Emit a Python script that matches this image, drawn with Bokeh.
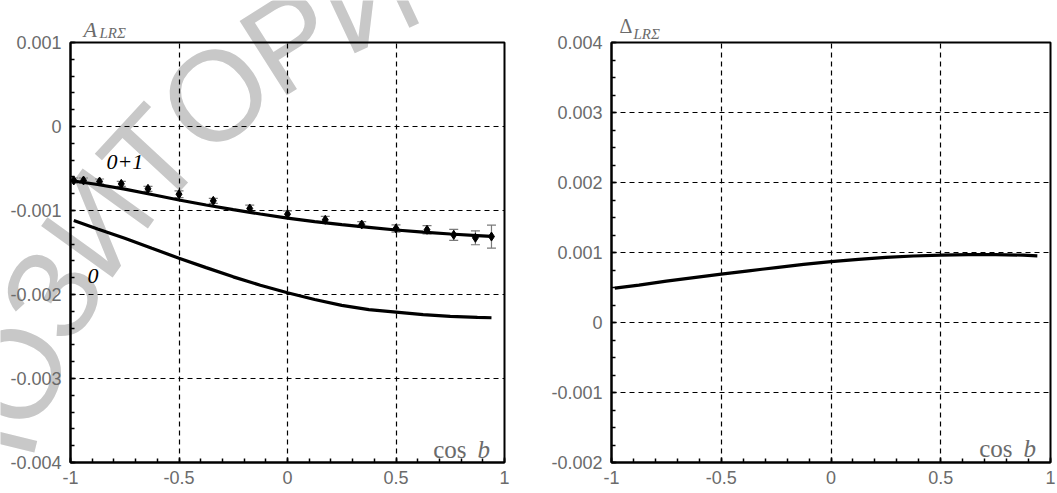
import numpy as np
from bokeh.plotting import figure
from bokeh.models import (FixedTicker, CustomJSTickFormatter, Whisker,
                          ColumnDataSource, Range1d, TeeHead)
from bokeh.core.properties import value
from bokeh.layouts import row, column
from bokeh.embed import file_html
from bokeh.resources import INLINE

# ---------------- data ----------------
# measured points (left panel), x = cos b
cos_pts = [-0.985, -0.940, -0.866, -0.766, -0.643, -0.500, -0.342, -0.174,
           0.000, 0.174, 0.342, 0.500, 0.643, 0.766, 0.866, 0.940]
a_pts = [-0.000643, -0.000643, -0.000655, -0.000683, -0.000742, -0.000806,
         -0.000885, -0.000976, -0.001044, -0.001111, -0.001167, -0.001214,
         -0.001230, -0.001290, -0.001325, -0.001310]
a_err = [0.00003, 0.00003, 0.00003, 0.00003, 0.00003, 0.00004, 0.00003,
         0.00004, 0.00004, 0.00004, 0.000034, 0.000044, 0.00005, 0.000065,
         0.000083, 0.000137]

# theory curves (left panel)
curve_x = [-1.0, -0.875, -0.75, -0.625, -0.5, -0.375, -0.25, -0.125, 0.0,
           0.125, 0.25, 0.375, 0.5, 0.625, 0.75, 0.875, 0.94]
curve_01 = [-0.000643, -0.000690, -0.000745, -0.000810, -0.000875, -0.000935,
            -0.000990, -0.001042, -0.001090, -0.001132, -0.001168, -0.001200,
            -0.001232, -0.001258, -0.001280, -0.001298, -0.001308]
curve0_x = [-0.985, -0.875, -0.75, -0.625, -0.5, -0.375, -0.25, -0.125, 0.0,
            0.125, 0.25, 0.375, 0.5, 0.625, 0.75, 0.875, 0.94]
curve_0 = [-0.00112, -0.00122, -0.00133, -0.00145, -0.001568, -0.00168,
           -0.00179, -0.00189, -0.00198, -0.00206, -0.00213, -0.00218,
           -0.00221, -0.00224, -0.00226, -0.002272, -0.002277]

# right panel curve
delta_x = [-0.985, -0.875, -0.75, -0.625, -0.5, -0.375, -0.25, -0.125, 0.0,
           0.125, 0.25, 0.375, 0.5, 0.625, 0.75, 0.875, 0.94]
delta_y = [0.00049, 0.000535, 0.00059, 0.00064, 0.00069, 0.000738, 0.000785,
           0.00083, 0.00087, 0.000903, 0.00093, 0.00095, 0.000963, 0.00097,
           0.00097, 0.000962, 0.000952]

x_ticks = [-1, -0.5, 0, 0.5, 1]
left_yticks = [-0.004, -0.003, -0.002, -0.001, 0, 0.001]
right_yticks = [-0.002, -0.001, 0, 0.001, 0.002, 0.003, 0.004]

watermark = "РЕПОЗИТОРИЙ"

# ---------------- styling ----------------
GRAY = "#6b6b6b"
SANS = "Liberation Sans"
SERIF = "Liberation Serif"
W, H = 1057, 493

fmt = CustomJSTickFormatter(code="""
    return tick.toFixed(3).replace(/\\.?0+$/, '');
""")


def make_fig(width, height, ylo, yhi, yticks, yminor_step, bl, br, bt, bb):
    p = figure(width=width, height=height, x_range=Range1d(-1, 1),
               y_range=Range1d(ylo, yhi), output_backend="svg",
               toolbar_location=None, min_border_left=bl, min_border_right=br,
               min_border_top=bt, min_border_bottom=bb)
    p.background_fill_alpha = 0
    p.border_fill_alpha = 0
    p.outline_line_color = "black"
    p.outline_line_width = 2
    p.outline_line_alpha = 1.0

    xminor = [round(v, 2) for v in np.arange(-1.0, 1.0001, 0.1)]
    yminor = [round(v, 6) for v in np.arange(ylo, yhi + 1e-9, yminor_step)]
    p.xaxis.ticker = FixedTicker(ticks=x_ticks, minor_ticks=xminor)
    p.yaxis.ticker = FixedTicker(ticks=yticks, minor_ticks=yminor)
    for ax in (p.xaxis, p.yaxis):
        ax.formatter = fmt
        ax.axis_line_color = "black"
        ax.axis_line_width = 2
        ax.major_tick_in = 5
        ax.major_tick_out = 0
        ax.minor_tick_in = 4
        ax.minor_tick_out = 0
        ax.major_tick_line_color = "black"
        ax.minor_tick_line_color = "black"
        ax.major_tick_line_width = 1.5
        ax.minor_tick_line_width = 1.5
        ax.major_label_text_font = SANS
        ax.major_label_text_font_size = "18px"
        ax.major_label_text_color = GRAY
    p.xaxis.major_label_standoff = 8
    p.yaxis.major_label_standoff = 9

    p.xgrid.ticker = FixedTicker(ticks=[-0.5, 0, 0.5])
    p.ygrid.ticker = FixedTicker(ticks=yticks)
    for g in (p.xgrid, p.ygrid):
        g.grid_line_color = "black"
        g.grid_line_alpha = 1.0
        g.grid_line_width = 1.2
        g.grid_line_dash = "5 4"
    return p


# ---------------- background layer (page-pixel coordinates) ----------------
bg = figure(width=W, height=H, x_range=Range1d(0, W), y_range=Range1d(H, 0),
            output_backend="svg", toolbar_location=None, min_border=0,
            x_axis_type=None, y_axis_type=None)
bg.grid.visible = False
bg.outline_line_color = None
bg.background_fill_color = "white"
bg.border_fill_color = "white"

# watermark letters laid along an arc (decoration only)
WM_SIZE = 128.0
adv = {"Р": 0.667, "Е": 0.667, "П": 0.722, "О": 0.778, "З": 0.60,
       "И": 0.722, "Т": 0.611, "Й": 0.722}
cx, cy, R = 665.0, 631.0, 700.0
anchor_i, anchor_deg = 7, 130.0          # second "О" sits at this angle
cum = [0.0]
for a_ch, b_ch in zip(watermark[:-1], watermark[1:]):
    cum.append(cum[-1] + (adv[a_ch] + adv[b_ch]) / 2 * WM_SIZE)
wm_x, wm_y, wm_a, wm_t = [], [], [], []
for i, ch in enumerate(watermark):
    ang = np.deg2rad(anchor_deg) - (cum[i] - cum[anchor_i]) / R
    x = cx + R * np.cos(ang)
    y = cy - R * np.sin(ang)
    if -40 < x < W and -30 < y < H + 40:
        wm_x.append(x)
        wm_y.append(y)
        wm_a.append(ang - np.pi / 2)
        wm_t.append(ch)
bg.text(x=wm_x, y=wm_y, text=wm_t, angle=wm_a,
        text_font=value(SANS), text_font_size=value(f"{WM_SIZE:.0f}px"),
        text_color="#c8c8c8", text_align="center", text_baseline="middle")


def bg_text(x, y, t, font, size, color, style="normal", align="left"):
    bg.text(x=[x], y=[y], text=[t], text_font=value(font),
            text_font_size=value(size), text_color=color,
            text_font_style=style, text_align=align,
            text_baseline="alphabetic")


bg_text(83, 28.5, "A", SERIF, "22px", GRAY, "italic")
bg_text(99, 32.5, "LRΣ", SERIF, "15px", GRAY, "italic")
bg_text(619, 25.5, "Δ", SERIF, "20px", GRAY)
bg_text(633, 33, "LRΣ", SERIF, "15px", GRAY, "italic")

# ---------------- left panel ----------------
p1 = make_fig(524, H, -0.004, 0.001, left_yticks, 0.0002, 70, 20, 42, 31)

src = ColumnDataSource(dict(
    x=cos_pts, y=a_pts,
    upper=[v + e for v, e in zip(a_pts, a_err)],
    lower=[v - e for v, e in zip(a_pts, a_err)]))
wh = Whisker(base="x", upper="upper", lower="lower", source=src,
             line_color="#7a7a7a", line_width=1.2,
             upper_head=TeeHead(size=9, line_color="#7a7a7a", line_width=1.2),
             lower_head=TeeHead(size=9, line_color="#7a7a7a", line_width=1.2))
p1.add_layout(wh)
p1.line(curve_x, curve_01, line_width=3.2, color="black")
p1.line(curve0_x, curve_0, line_width=3.2, color="black")
p1.scatter("x", "y", source=src, marker="diamond", size=9, color="black")


def l_data(px, py):
    return -1 + (px - 70) / 217.0, 0.001 - (py - 42) / 84.0 * 0.001


def r_data(px, py):
    return -1 + (px - 611) / 219.5, 0.004 - (py - 37.7) / 70.85 * 0.001


def in_text(p, conv, px, py, t, font, size, color, style="normal",
            align="left"):
    x, y = conv(px, py)
    p.text(x=[x], y=[y], text=[t], text_font=value(font),
           text_font_size=value(size), text_color=color,
           text_font_style=style, text_align=align,
           text_baseline="alphabetic")


in_text(p1, l_data, 466, 449, "cos", SERIF, "25px", GRAY, "normal", "right")
in_text(p1, l_data, 477, 449, "b", SERIF, "25px", GRAY, "italic")
in_text(p1, l_data, 106, 161.5, "0+1", SERIF, "22px", "black", "italic")
in_text(p1, l_data, 87, 275, "0", SERIF, "22px", "black", "italic")

# ---------------- right panel ----------------
p2 = make_fig(533, H, -0.002, 0.004, right_yticks, 0.00025, 87, 7, 38, 31)
p2.line(delta_x, delta_y, line_width=3.2, color="black")
in_text(p2, r_data, 1012, 449, "cos", SERIF, "25px", GRAY, "normal", "right")
in_text(p2, r_data, 1023, 449, "b", SERIF, "25px", GRAY, "italic")

charts = row(p1, p2, margin=(-H, 0, 0, 0))
layout = column(bg, charts)
open("out.html", "w").write(file_html(layout, INLINE))
